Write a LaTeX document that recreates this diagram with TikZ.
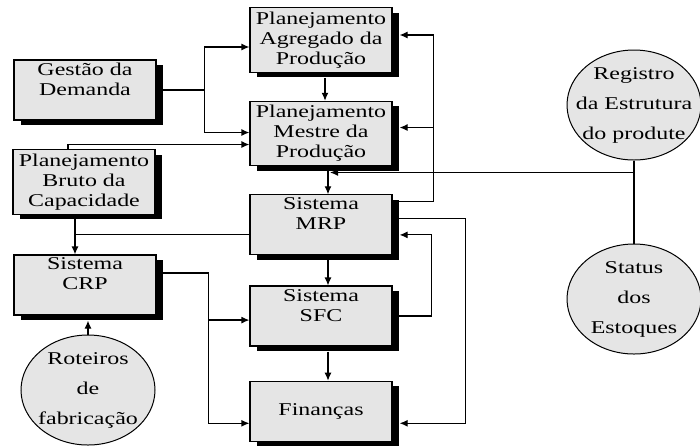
\documentclass[tikz,border=0pt]{standalone}
\usepackage{fontspec}
\setmainfont{Liberation Serif}[FakeStretch=1.33]
\usetikzlibrary{arrows.meta, positioning, calc, shadows, shapes.geometric}

\begin{document}
\begin{tikzpicture}[
  x=0.5pt, y=-0.5pt, line width=0.6pt,
  node distance=14pt,
  box/.style={draw, fill=gray!20, general shadow={fill=black, shadow xshift=3.3pt, shadow yshift=-2.5pt}, minimum width=71pt, minimum height=30pt, inner sep=2pt, align=center, font=\fontsize{9}{10}\selectfont},
  topbox/.style={text depth=11pt, inner ysep=1pt},
  bubble/.style={draw, ellipse, fill=gray!20, line width=0.5pt, inner sep=-6pt, minimum width=67pt, minimum height=55pt, align=center, font=\fontsize{9}{15}\selectfont},
  arr/.style={-{Latex[length=4pt, width=3.5pt]}}
]
  \useasboundingbox (0,0) rectangle (700,446);

  \node[box] (pa) at (321,40) {Planejamento\\Agregado da\\Produção};
  \node[box, below=of pa] (pm) {Planejamento\\Mestre da\\Produção};
  \node[box, topbox, below=of pm] (mrp) {Sistema\\MRP};
  \node[box, topbox, below=15pt of mrp] (sfc) {Sistema\\SFC};
  \node[box, below=17pt of sfc] (fin) {Finanças};
  \node[box, topbox] (gd) at (85,90) {Gestão da\\Demanda};
  \node[box] (pbc) at (84,182) {Planejamento\\Bruto da\\Capacidade};
  \node[box, topbox] (crp) at (85,285) {Sistema\\CRP};
  \node[bubble] (rot) at (88,390) {Roteiros\\de\\fabricação};
  \node[bubble] (reg) at (634,105) {Registro\\da Estrutura\\do produte};
  \node[bubble] (est) at (634,299) {Status\\dos\\Estoques};

  \coordinate (gdj) at ($(gd.east)+(48,0)$);
  \draw (gd.east) -- (gdj);
  \draw[arr] (gdj) |- ($(pa.west)+(0,7)$);
  \draw[arr] (gdj) |- ($(pm.west)+(0,-1)$);
  \draw[arr] ($(pbc.north)+(-16,0)$) |- ($(pm.west)+(0,11)$);
  \draw[arr] ($(pa.south)+(4,5)$) -- ($(pm.north)+(4,0)$);
  \draw[arr] ($(pm.south)+(7,5)$) -- ($(mrp.north)+(7,0)$);
  \draw[arr] ($(mrp.south)+(7,5)$) -- ($(sfc.north)+(7,0)$);
  \draw[arr] ($(sfc.south)+(7,5)$) -- ($(fin.north)+(7,0)$);

  \draw (reg.south) -- (est.north);
  \coordinate (regj) at ($(reg.south)+(0,12)$);
  \draw[arr] (regj) -- ($(regj -| mrp.north)+(9,0)$);

  \coordinate (mrpup) at ($(mrp.east)+(41,-23)$);
  \draw[arr] ($(mrp.east)+(0,-23)$) -- (mrpup) |- ($(pa.east)+(7,-5)$);
  \draw[arr] (mrpup) |- ($(pm.east)+(7,-6)$);
  \draw[arr] ($(mrp.east)+(0,-6)$) -- ++(73,0) |- ($(fin.east)+(7,12)$);
  \draw[arr] (sfc.east) -- ++(39,0) |- ($(mrp.east)+(7,10)$);

  \draw[arr] ($(mrp.west)+(0,10)$) -| ($(crp.north)+(-10,0)$);
  \draw ($(pbc.south)+(-9,0)$) |- ($(mrp.west)+(0,10)$);
  \coordinate (crpj) at ($(crp.east)+(52,-12)$);
  \draw ($(crp.east)+(0,-12)$) -- (crpj);
  \draw[arr] (crpj) |- ($(sfc.west)+(0,4)$);
  \draw[arr] (crpj) |- ($(fin.west)+(0,12)$);
  \draw[arr] (rot.north) -- ($(rot.north |- crp.south)+(0,5)$);
\end{tikzpicture}
\end{document}
